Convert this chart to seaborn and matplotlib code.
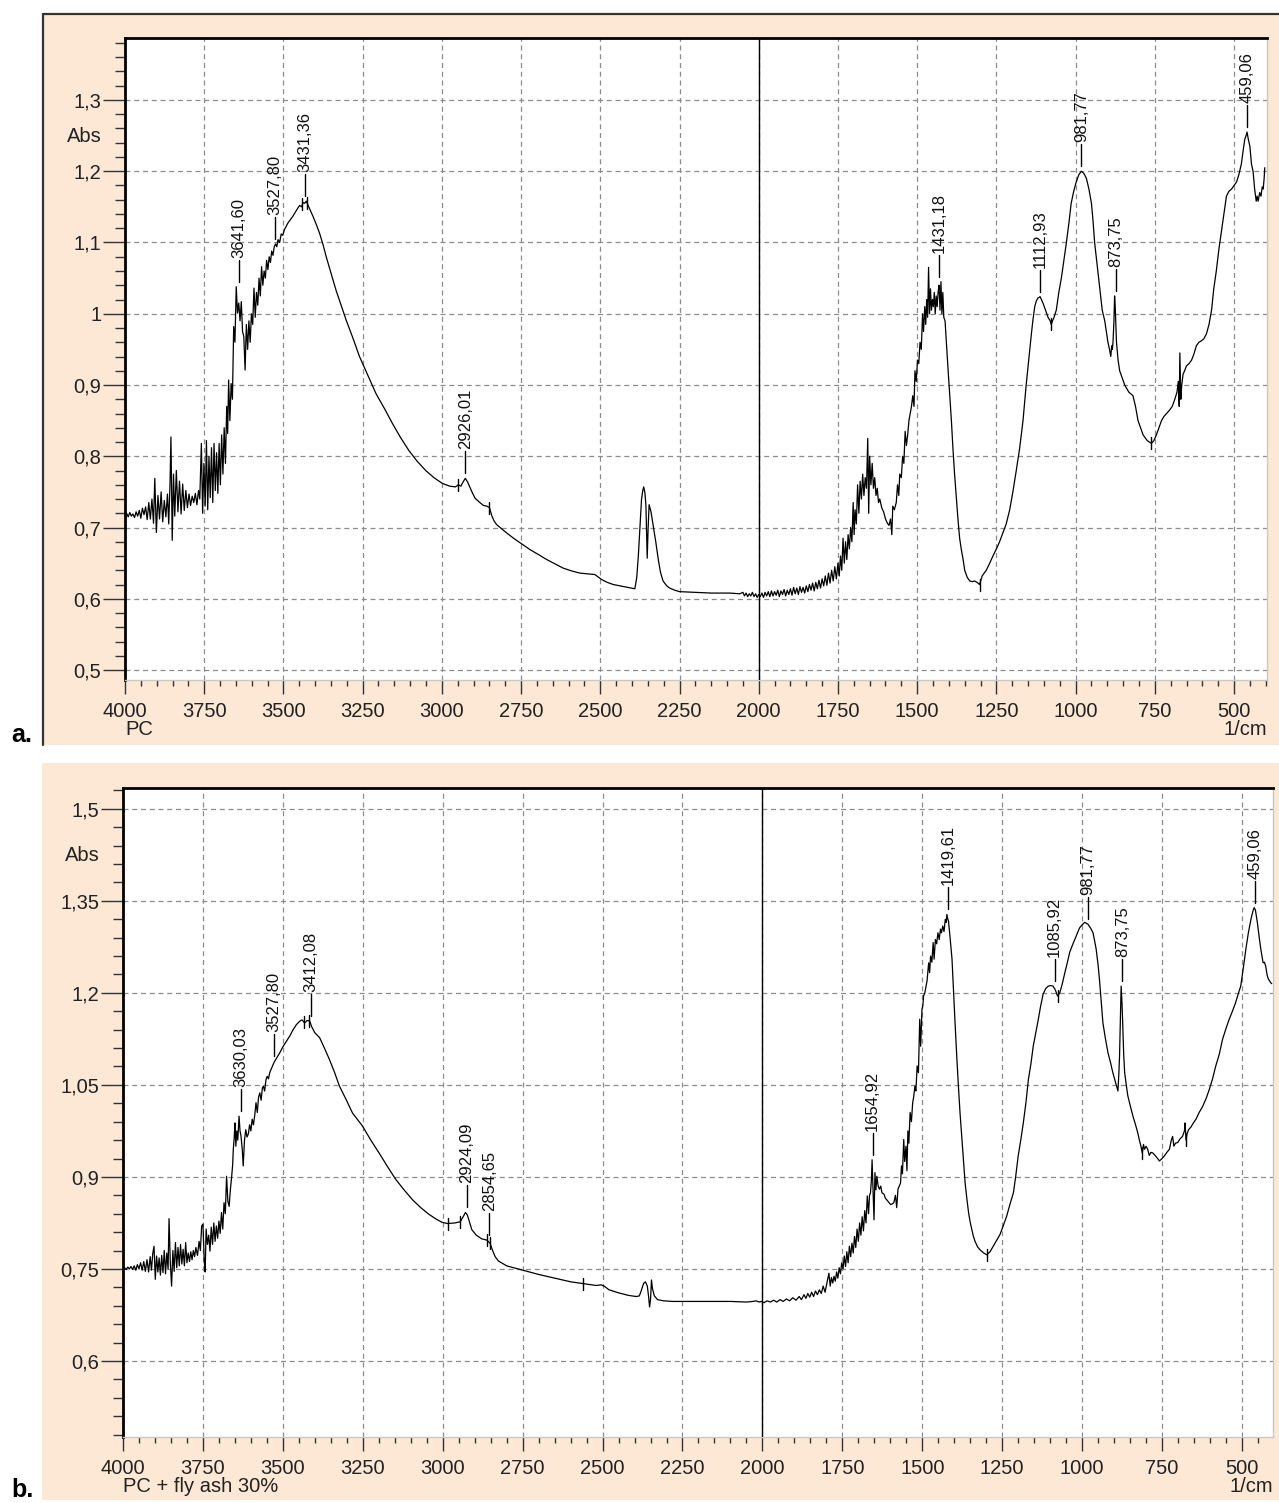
import numpy as np
import pandas as pd
import matplotlib.pyplot as plt
import seaborn as sns
from matplotlib.patches import Rectangle
from matplotlib.lines import Line2D
from matplotlib.ticker import FixedLocator, MultipleLocator, FuncFormatter

# Spectrum a: PC  (wavenumber 1/cm, absorbance)
pc_oh = [(4000, .717), (3995, .720), (3990, .715), (3985, .721), (3980, .716), (3975, .719), (3970, .714),
         (3965, .722), (3960, .716), (3955, .724), (3950, .713), (3945, .727), (3940, .718), (3935, .729),
         (3930, .711), (3925, .735), (3920, .712), (3915, .740), (3910, .706), (3906, .769), (3901, .693),
         (3896, .745), (3891, .712), (3886, .750), (3881, .708), (3876, .738), (3871, .715), (3866, .747),
         (3862, .705), (3858, .760), (3855, .827), (3851, .682), (3847, .775), (3843, .716), (3838, .780),
         (3833, .722), (3828, .765), (3823, .719), (3818, .761), (3813, .724), (3808, .752), (3803, .728),
         (3798, .747), (3793, .731), (3788, .744), (3783, .735), (3778, .748), (3773, .732), (3768, .752),
         (3764, .740), (3759, .818), (3755, .720), (3751, .790), (3747, .730), (3743, .822), (3739, .725),
         (3735, .800), (3731, .742), (3727, .812), (3723, .735), (3719, .818), (3715, .752), (3711, .805),
         (3707, .748), (3703, .818), (3699, .760), (3695, .830), (3691, .775), (3687, .840), (3683, .790),
         (3679, .870), (3676, .832), (3673, .907), (3669, .850), (3665, .902), (3661, .880), (3657, .982),
         (3653, .960), (3649, 1.038), (3645, 1.001), (3641, 1.015), (3637, .990), (3633, 1.017), (3629, .975),
         (3625, .968), (3621, .921), (3617, .985), (3613, .950), (3609, .990), (3605, .960), (3601, 1.000),
         (3597, .985), (3593, 1.036), (3589, .995), (3585, 1.030), (3581, 1.012), (3577, 1.050), (3573, 1.025),
         (3569, 1.066), (3565, 1.040), (3561, 1.060), (3557, 1.050), (3553, 1.075), (3549, 1.062), (3545, 1.080),
         (3541, 1.072), (3537, 1.088), (3533, 1.082), (3529, 1.094), (3525, 1.098), (3521, 1.094), (3517, 1.104),
         (3512, 1.100), (3507, 1.112), (3502, 1.110), (3497, 1.118), (3491, 1.123), (3485, 1.128), (3478, 1.132),
         (3470, 1.137), (3462, 1.143), (3455, 1.148), (3449, 1.152), (3443, 1.150), (3438, 1.156), (3433, 1.155),
         (3428, 1.158), (3422, 1.152), (3415, 1.145), (3407, 1.137), (3396, 1.125), (3386, 1.113), (3375, 1.097),
         (3365, 1.080), (3350, 1.057), (3334, 1.033), (3318, 1.012), (3302, .991), (3280, .965), (3260, .940),
         (3234, .914), (3208, .888), (3180, .866), (3156, .846), (3130, .826), (3104, .808), (3078, .793),
         (3051, .780), (3025, .770), (2999, .762), (2975, .758), (2957, .757)]
pc_mid = [(2948, .760), (2940, .758), (2933, .764), (2926, .769), (2919, .764), (2911, .756), (2903, .748),
          (2895, .741), (2880, .735), (2869, .731), (2858, .730), (2850, .728), (2842, .716), (2835, .709),
          (2827, .704), (2800, .694), (2774, .685), (2748, .677), (2722, .669), (2695, .662), (2669, .655),
          (2643, .649), (2617, .643), (2590, .639), (2564, .636), (2540, .635), (2517, .634), (2505, .630),
          (2496, .627), (2478, .623), (2459, .620), (2425, .617), (2391, .614), (2385, .630), (2380, .660),
          (2375, .700), (2370, .739), (2366, .752), (2363, .757), (2359, .748), (2356, .730), (2354, .690),
          (2352, .657), (2349, .700), (2346, .732), (2340, .722), (2333, .702), (2325, .680), (2317, .655),
          (2310, .637), (2302, .625), (2290, .618), (2281, .615), (2265, .612), (2250, .610), (2200, .609),
          (2150, .608), (2092, .608), (2060, .607)]
pc_rise = [(2050, .609), (2045, .604), (2040, .608), (2035, .603), (2030, .607), (2025, .604), (2020, .609),
           (2015, .603), (2010, .607), (2005, .602), (2000, .606), (1995, .603), (1990, .608), (1985, .602),
           (1980, .609), (1975, .604), (1970, .610), (1965, .603), (1960, .611), (1955, .604), (1950, .610),
           (1945, .605), (1940, .612), (1935, .603), (1930, .611), (1925, .606), (1920, .613), (1915, .604),
           (1910, .612), (1905, .606), (1900, .614), (1895, .605), (1890, .616), (1885, .607), (1880, .615),
           (1875, .606), (1870, .617), (1865, .609), (1860, .616), (1855, .608), (1850, .618), (1845, .610),
           (1840, .620), (1835, .612), (1830, .622), (1825, .611), (1820, .623), (1815, .614), (1810, .626),
           (1805, .615), (1800, .628), (1795, .618), (1790, .632), (1785, .619), (1780, .636), (1775, .622),
           (1770, .640), (1765, .625), (1760, .645), (1755, .628), (1750, .650), (1746, .632), (1742, .660),
           (1738, .640), (1734, .685), (1730, .650), (1726, .680), (1722, .655), (1718, .690), (1714, .670),
           (1710, .700), (1706, .680), (1702, .735), (1699, .690), (1696, .725), (1692, .705), (1688, .760),
           (1684, .720), (1680, .765), (1676, .740), (1672, .775), (1668, .745), (1664, .770), (1660, .755),
           (1656, .825), (1653, .720), (1650, .800), (1646, .760), (1642, .790), (1638, .755), (1634, .770),
           (1630, .745), (1626, .755), (1622, .735), (1618, .740), (1612, .728), (1606, .722), (1600, .712),
           (1594, .706), (1589, .703), (1584, .712), (1580, .690), (1577, .730), (1572, .725), (1566, .735),
           (1562, .760), (1558, .745), (1555, .775), (1550, .770), (1546, .800), (1542, .790), (1538, .835),
           (1534, .815), (1530, .830), (1526, .850), (1522, .860), (1518, .870), (1514, .885), (1510, .870),
           (1507, .920), (1503, .905), (1499, .935), (1495, .930), (1491, .960), (1487, .950), (1483, 1.000),
           (1480, .975), (1476, 1.010), (1473, .985), (1470, 1.020), (1467, .995), (1464, 1.065), (1461, 1.000),
           (1458, 1.035), (1455, 1.005), (1452, 1.020), (1449, 1.010), (1446, 1.030), (1443, 1.000), (1440, 1.025),
           (1437, 1.010), (1434, 1.030), (1431, 1.040), (1428, 1.005), (1425, 1.045), (1422, 1.000), (1419, 1.030),
           (1416, .995), (1412, .990), (1408, .960), (1403, .925), (1398, .890), (1392, .850), (1387, .810),
           (1382, .775), (1376, .740), (1371, .710), (1366, .685), (1361, .670), (1355, .655), (1350, .640),
           (1342, .630), (1334, .625), (1326, .624), (1319, .625), (1311, .623), (1303, .620), (1295, .632)]
pc_sil = [(1282, .640), (1271, .650), (1261, .660), (1250, .670), (1240, .680), (1230, .692), (1219, .705),
          (1208, .725), (1198, .750), (1188, .778), (1177, .810), (1166, .850), (1156, .900), (1148, .935),
          (1140, .970), (1135, .990), (1129, 1.010), (1124, 1.018), (1119, 1.022), (1112, 1.024), (1103, 1.015),
          (1095, 1.005), (1087, .995), (1080, .990), (1077, .985), (1073, .990), (1068, .995), (1061, 1.005),
          (1053, 1.030), (1045, 1.050), (1037, 1.075), (1029, 1.100), (1021, 1.128), (1014, 1.155), (1006, 1.172),
          (998, 1.185), (990, 1.195), (982, 1.200), (974, 1.197), (966, 1.190), (958, 1.175), (950, 1.155),
          (945, 1.130), (940, 1.100), (932, 1.068), (924, 1.035), (916, 1.005), (908, .990), (903, .975),
          (898, .960), (893, .950), (889, .940), (886, .955), (884, .950), (882, .960), (879, .990), (877, 1.025),
          (875, 1.010), (873, .985), (871, .960), (866, .935), (861, .920), (853, .910), (845, .900), (832, .890),
          (819, .885), (811, .870), (803, .850), (795, .840), (787, .830), (774, .822), (761, .818), (753, .822),
          (745, .830), (737, .840), (729, .850), (721, .856), (713, .860), (703, .865), (695, .870), (687, .880),
          (680, .890), (676, .905), (673, .870), (671, .945), (668, .880), (665, .900), (661, .915), (656, .920),
          (650, .927), (642, .930), (634, .935), (627, .943), (619, .955), (611, .960), (603, .962), (595, .965),
          (587, .972), (579, .985), (571, 1.005), (564, 1.035), (556, 1.060), (548, 1.090), (540, 1.115),
          (532, 1.140), (524, 1.165), (516, 1.172), (508, 1.175), (500, 1.180), (492, 1.185), (485, 1.195),
          (477, 1.210), (471, 1.230), (466, 1.245), (462, 1.250), (459, 1.255), (455, 1.245), (450, 1.235),
          (445, 1.210), (440, 1.200), (435, 1.175), (430, 1.158), (427, 1.165), (424, 1.158), (419, 1.170),
          (415, 1.165), (411, 1.178), (408, 1.175), (405, 1.190), (403, 1.205)]

# Spectrum b: PC + fly ash 30%
fa_oh = [(4000, .750), (3995, .752), (3990, .749), (3985, .753), (3980, .750), (3975, .754), (3970, .749),
         (3965, .755), (3960, .748), (3955, .757), (3950, .750), (3945, .760), (3940, .748), (3935, .762),
         (3930, .746), (3925, .765), (3920, .745), (3915, .770), (3911, .748), (3907, .775), (3903, .787),
         (3899, .733), (3895, .771), (3891, .745), (3887, .768), (3883, .740), (3879, .772), (3875, .744),
         (3871, .780), (3867, .742), (3863, .776), (3859, .750), (3856, .832), (3852, .760), (3848, .722),
         (3844, .780), (3840, .746), (3836, .793), (3832, .752), (3828, .785), (3824, .755), (3820, .790),
         (3816, .758), (3812, .782), (3808, .755), (3804, .793), (3800, .760), (3796, .776), (3792, .762),
         (3788, .778), (3784, .765), (3780, .780), (3776, .770), (3772, .785), (3767, .772), (3762, .795),
         (3758, .780), (3754, .820), (3750, .823), (3746, .765), (3743, .745), (3740, .815), (3736, .790),
         (3732, .805), (3728, .779), (3724, .818), (3720, .790), (3716, .825), (3712, .795), (3708, .820),
         (3704, .800), (3700, .828), (3696, .808), (3692, .842), (3688, .815), (3684, .858), (3680, .840),
         (3676, .901), (3672, .860), (3668, .852), (3664, .880), (3660, .901), (3657, .920), (3655, .945),
         (3652, .965), (3650, .988), (3647, .950), (3644, .975), (3641, .960), (3637, .999), (3634, .975),
         (3631, .967), (3627, .945), (3624, .918), (3620, .960), (3616, .977), (3612, .965), (3608, .970),
         (3604, .985), (3600, .975), (3596, .994), (3592, .985), (3588, 1.000), (3584, 1.021), (3580, 1.005),
         (3576, 1.030), (3572, 1.037), (3568, 1.025), (3564, 1.045), (3561, 1.048), (3557, 1.040), (3553, 1.058),
         (3549, 1.064), (3545, 1.060), (3541, 1.070), (3537, 1.075), (3533, 1.080), (3529, 1.085), (3525, 1.089),
         (3518, 1.095), (3510, 1.102), (3500, 1.112), (3489, 1.121), (3478, 1.130), (3468, 1.140), (3458, 1.148),
         (3447, 1.154), (3440, 1.156), (3432, 1.151), (3424, 1.155), (3416, 1.154), (3410, 1.145), (3400, 1.135),
         (3385, 1.127), (3370, 1.110), (3354, 1.091), (3338, 1.070), (3323, 1.048), (3302, 1.026), (3282, 1.004),
         (3251, .983), (3225, .960), (3199, .939), (3173, .917), (3147, .896), (3121, .879), (3095, .863),
         (3069, .850), (3043, .839), (3020, .831), (3002, .826), (2985, .824), (2961, .825)]
fa_mid = [(2945, .827), (2935, .836), (2929, .842), (2923, .838), (2916, .826), (2909, .814), (2895, .805),
          (2878, .799), (2862, .797), (2852, .792), (2844, .780), (2836, .770), (2826, .763), (2800, .755),
          (2750, .748), (2700, .741), (2650, .735), (2600, .729), (2560, .726), (2520, .723), (2505, .724),
          (2495, .722), (2480, .716), (2450, .711), (2420, .707), (2395, .705), (2385, .706), (2378, .716),
          (2372, .726), (2366, .729), (2360, .722), (2356, .705), (2353, .688), (2350, .700), (2347, .732),
          (2344, .718), (2338, .706), (2328, .700), (2310, .698), (2280, .697), (2200, .697), (2100, .697),
          (2050, .696), (2030, .697)]
fa_rise = [(2020, .698), (2010, .696), (2004, .697), (1995, .695), (1985, .698), (1975, .696), (1965, .699),
           (1955, .696), (1945, .700), (1935, .697), (1925, .701), (1915, .698), (1905, .703), (1895, .699),
           (1885, .705), (1878, .700), (1870, .708), (1864, .702), (1858, .710), (1852, .704), (1846, .712),
           (1840, .705), (1834, .714), (1828, .708), (1822, .716), (1816, .710), (1810, .722), (1804, .712),
           (1798, .728), (1792, .743), (1788, .722), (1784, .736), (1780, .727), (1776, .738), (1772, .730),
           (1768, .745), (1764, .735), (1760, .752), (1756, .742), (1752, .760), (1748, .750), (1744, .771),
           (1740, .754), (1736, .778), (1732, .760), (1728, .787), (1724, .770), (1720, .792), (1716, .776),
           (1712, .803), (1708, .785), (1704, .815), (1700, .795), (1696, .825), (1692, .805), (1688, .835),
           (1684, .812), (1680, .845), (1676, .825), (1672, .869), (1668, .840), (1665, .870), (1662, .874),
           (1659, .896), (1657, .928), (1654, .880), (1651, .830), (1648, .907), (1645, .879), (1642, .901),
           (1638, .885), (1634, .880), (1630, .885), (1626, .874), (1620, .872), (1615, .865), (1610, .862),
           (1604, .858), (1599, .855), (1594, .856), (1589, .858), (1584, .870), (1580, .850), (1576, .880),
           (1572, .885), (1568, .890), (1565, .918), (1562, .905), (1558, .961), (1555, .925), (1551, .950),
           (1548, .910), (1545, .975), (1542, .955), (1538, 1.005), (1534, .990), (1530, 1.021), (1527, 1.030),
           (1523, 1.048), (1520, 1.040), (1516, 1.081), (1512, 1.070), (1508, 1.157), (1505, 1.113), (1501, 1.173),
           (1498, 1.180), (1496, 1.195), (1492, 1.200), (1488, 1.211), (1485, 1.220), (1480, 1.249), (1477, 1.233),
           (1474, 1.260), (1470, 1.250), (1466, 1.282), (1463, 1.255), (1459, 1.287), (1455, 1.280), (1451, 1.298),
           (1447, 1.287), (1443, 1.304), (1440, 1.298), (1436, 1.309), (1432, 1.300), (1428, 1.320), (1425, 1.315),
           (1423, 1.328), (1420, 1.320), (1418, 1.317), (1413, 1.290), (1407, 1.255), (1402, 1.200), (1397, 1.146),
           (1392, 1.095), (1387, 1.048), (1382, 1.005), (1376, .961), (1371, .925), (1366, .890), (1360, .862),
           (1355, .841), (1350, .826), (1345, .814), (1340, .803), (1335, .795), (1327, .786), (1319, .781),
           (1308, .776), (1298, .773)]
fa_sil = [(1288, .778), (1278, .787), (1268, .796), (1257, .806), (1247, .820), (1236, .836), (1226, .855),
          (1215, .874), (1208, .900), (1200, .934), (1192, .960), (1184, .988), (1176, 1.020), (1168, 1.059),
          (1160, 1.085), (1153, 1.113), (1145, 1.135), (1137, 1.157), (1130, 1.178), (1122, 1.198), (1114, 1.207),
          (1106, 1.211), (1098, 1.212), (1091, 1.211), (1084, 1.205), (1077, 1.195), (1073, 1.198), (1070, 1.200),
          (1062, 1.215), (1054, 1.233), (1046, 1.250), (1039, 1.266), (1031, 1.277), (1023, 1.287), (1015, 1.297),
          (1008, 1.306), (1000, 1.311), (992, 1.315), (982, 1.312), (974, 1.306), (966, 1.298), (961, 1.285),
          (956, 1.271), (950, 1.245), (945, 1.217), (940, 1.185), (935, 1.151), (927, 1.125), (919, 1.102),
          (911, 1.086), (904, 1.070), (896, 1.055), (888, 1.040), (885, 1.070), (883, 1.097), (880, 1.170),
          (878, 1.211), (875, 1.180), (873, 1.146), (870, 1.100), (867, 1.070), (862, 1.050), (857, 1.032),
          (849, 1.015), (841, .999), (833, .985), (826, .972), (821, .960), (816, .950), (812, .939), (808, .953),
          (805, .945), (800, .950), (795, .945), (790, .935), (785, .940), (779, .939), (770, .934), (764, .930),
          (758, .926), (750, .930), (743, .934), (735, .940), (727, .945), (721, .960), (717, .966), (713, .950),
          (708, .955), (701, .956), (694, .962), (686, .966), (680, .975), (678, .988), (675, .960), (672, .970),
          (667, .977), (660, .981), (652, .988), (644, .994), (634, 1.005), (623, 1.015), (612, 1.028),
          (602, 1.043), (592, 1.060), (582, 1.081), (571, 1.100), (561, 1.124), (550, 1.142), (540, 1.157),
          (530, 1.170), (520, 1.184), (512, 1.198), (504, 1.211), (496, 1.240), (488, 1.271), (480, 1.298),
          (472, 1.320), (466, 1.333), (462, 1.339), (458, 1.335), (452, 1.315), (446, 1.290), (441, 1.271),
          (437, 1.258), (434, 1.249), (430, 1.250), (426, 1.244), (423, 1.235), (421, 1.228), (417, 1.222),
          (414, 1.220), (411, 1.217), (407, 1.215)]

# peak labels
pc_peaks = [3641.60, 3527.80, 3431.36, 2926.01, 1431.18, 1112.93, 981.77, 873.75, 459.06]
fa_peaks = [3630.03, 3527.80, 3412.08, 2924.09, 2854.65, 1654.92, 1419.61, 1085.92, 981.77, 873.75, 459.06]

# peak-limit markers drawn across the curve by the software
pc_marks = [3440, 3425, 2948, 2850, 1303, 1077, 761]
fa_marks = [3435, 3418, 2985, 2945, 2862, 2852, 2560, 1298, 1077, 812, 675]

# axis ticks
pc_yticks = [0.5, 0.6, 0.7, 0.8, 0.9, 1.0, 1.1, 1.2, 1.3]
fa_yticks = [0.6, 0.75, 0.9, 1.05, 1.2, 1.35, 1.5]
x_ticks = list(range(500, 4001, 250))

W, H = 1279, 1503
PEACH = '#fce8d5'

sns.set_style('white')
plt.rcParams['font.family'] = ['Liberation Sans', 'DejaVu Sans']


def fx(x):
    return x / W


def fy(y):
    return 1 - y / H


def comma(v, pos=None):
    return f"{round(v, 3):g}".replace('.', ',')


def panel(fig, box, rect, regions, ylim, yticks, ystep, xlim, peaks, marks, letter, sample, abs_y, border):
    # peach frame
    bx0, by0, bx1, by1 = box
    fig.add_artist(Rectangle((fx(bx0), fy(by1)), fx(bx1) - fx(bx0), fy(by0) - fy(by1),
                             transform=fig.transFigure, facecolor=PEACH, edgecolor='none', zorder=0))
    if border:
        fig.add_artist(Line2D([fx(bx0), fx(bx1)], [fy(by0), fy(by0)], transform=fig.transFigure,
                              color='#333333', lw=1.6))
        fig.add_artist(Line2D([fx(bx0), fx(bx0)], [fy(by0), fy(by1)], transform=fig.transFigure,
                              color='#333333', lw=1.6))

    l, t, r, b = rect
    ax = fig.add_axes([fx(l), fy(b), fx(r) - fx(l), fy(t) - fy(b)])
    ax.set_facecolor('white')

    pts = np.array([p for reg in regions for p in reg])
    df = pd.DataFrame({'wn': pts[:, 0], 'A': pts[:, 1]})
    sns.lineplot(data=df, x='wn', y='A', sort=False, estimator=None, color='black',
                 linewidth=0.9, ax=ax, legend=False, zorder=4)

    ax.set_xlim(*xlim)
    ax.set_ylim(*ylim)
    ax.set_xlabel('')
    ax.set_ylabel('')

    ax.xaxis.set_major_locator(FixedLocator(x_ticks))
    ax.xaxis.set_minor_locator(MultipleLocator(50))
    ax.xaxis.set_major_formatter(FuncFormatter(lambda v, p: f"{int(round(v))}"))
    ax.yaxis.set_major_locator(FixedLocator(yticks))
    ax.yaxis.set_minor_locator(FixedLocator(np.arange(yticks[0] - ystep * 5, ylim[1], ystep)))
    ax.yaxis.set_major_formatter(FuncFormatter(comma))

    ax.tick_params(which='both', bottom=True, left=True, top=False, right=False)
    ax.tick_params(axis='x', which='major', direction='out', length=10, width=1, pad=5.5,
                   labelsize=14.5, colors='#333333', labelcolor='#222222')
    ax.tick_params(axis='x', which='minor', direction='out', length=4, width=1, colors='#333333')
    ax.tick_params(axis='y', which='major', direction='out', length=16, width=1, pad=1,
                   labelsize=14.5, colors='#333333', labelcolor='#222222')
    ax.tick_params(axis='y', which='minor', direction='out', length=7, width=1, colors='#333333')

    ax.grid(True, which='major', color='#8c8c8c', linestyle=(0, (4, 3)), linewidth=0.9)
    ax.axvline(2000, color='black', lw=1.0, zorder=3)

    ax.spines['top'].set_color('black')
    ax.spines['top'].set_linewidth(2)
    ax.spines['left'].set_color('black')
    ax.spines['left'].set_linewidth(2)
    for s in ('right', 'bottom'):
        ax.spines[s].set_color('#c8c8c8')
        ax.spines[s].set_linewidth(1)

    px = (ylim[1] - ylim[0]) / (b - t)
    wn, ab = df['wn'].values, df['A'].values

    # small limit markers on the curve
    for m in marks:
        ym = np.interp(m, wn[::-1], ab[::-1])
        ax.plot([m, m], [ym - 6 * px, ym + 6 * px], color='black', lw=1, zorder=5)

    # peak labels
    for w in peaks:
        near = np.abs(wn - w) <= 9
        top = ab[near].max()
        y0 = top + 5 * px
        y1 = y0 + 22 * px
        ax.plot([w, w], [y0, y1], color='black', lw=1, zorder=5)
        ax.text(w, y1 + 2 * px, f"{w:.2f}".replace('.', ','), rotation=90, ha='center', va='bottom',
                fontsize=12, color='#111111', zorder=5)

    fig.text(fx(l), fy(b + 50), sample, ha='left', va='center', fontsize=14.5, color='#222222')
    fig.text(fx(r), fy(b + 50), '1/cm', ha='right', va='center', fontsize=14.5, color='#222222')
    fig.text(fx(l - 23), fy(abs_y), 'Abs', ha='right', va='center', fontsize=14.5, color='#222222')
    fig.text(fx(11), fy(box[3] - 3), letter, ha='left', va='baseline', fontsize=18,
             fontweight='bold', color='black')
    return ax


fig = plt.figure(figsize=(W / 100, H / 100), dpi=100)

panel(fig, (43, 14, W + 2, 745), (125, 38, 1267, 680), [pc_oh, pc_mid, pc_rise, pc_sil],
      (0.486, 1.387), pc_yticks, 0.02, (4000, 396), pc_peaks, pc_marks, 'a.', 'PC', 136, True)
panel(fig, (42, 763, W + 2, 1500), (123, 788, 1273, 1437), [fa_oh, fa_mid, fa_rise, fa_sil],
      (0.476, 1.534), fa_yticks, 0.03, (4000, 403), fa_peaks, fa_marks, 'b.', 'PC + fly ash 30%', 855, False)

fig.savefig('out.png', dpi=100)
